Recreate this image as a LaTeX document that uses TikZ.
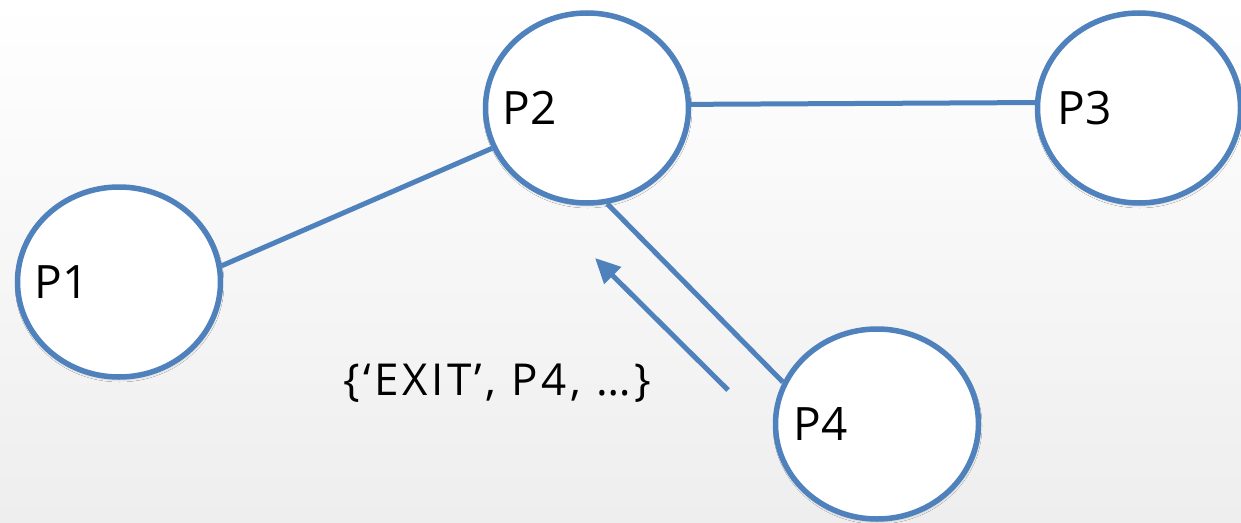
\documentclass[tikz,border=0pt]{standalone}
\usepackage{fontspec}
\setmainfont{Open Sans}
\usetikzlibrary{arrows.meta,shapes.geometric,shadows.blur}
\definecolor{edgeblue}{RGB}{79,129,189}
\definecolor{bgbottom}{RGB}{237,238,237}
\begin{document}
\begin{tikzpicture}[x=1pt,y=-1pt,
  proc/.style={ellipse, draw=edgeblue, line width=5.5pt, fill=white,
    minimum width=203pt, minimum height=190pt, inner sep=0pt,
    blur shadow={shadow xshift=0.5pt, shadow yshift=-2pt,
      shadow blur radius=3pt, shadow opacity=25}},
  tag/.style={anchor=west, inner sep=0pt, font=\fontsize{46}{50}\selectfont},
  msgtext/.style={anchor=base west, inner sep=0pt,
    font=\fontsize{44}{48}\selectfont\addfontfeature{LetterSpace=8}},
  link/.style={draw=edgeblue, line width=5pt},
  msg/.style={link, -{Triangle[length=25pt,width=23pt]}}
]
% soft vertical background
\shade[top color=white, bottom color=bgbottom] (0,0) rectangle (1241,522);
\useasboundingbox (0,0) rectangle (1241,522);

% processes
\node[proc] (p1) at (119,282) {};
\node[proc] (p2) at (587,108) {};
\node[proc] (p3) at (1139,108) {};
\node[proc] (p4) at (877,424) {};

\node[tag] (t1) at ([xshift=20pt]p1.west) {P1};
\node[tag] (t2) at ([xshift=20pt]p2.west) {P2};
\node[tag] (t3) at ([xshift=23pt]p3.west) {P3};
\node[tag] (t4) at ([xshift=21pt]p4.west) {P4};

% links between processes
\draw[link] (p1.9.4) -- (p2.203.4);
\draw[link] (p2.2.5) -- (p3.177.5);
\draw[link] (p2.-78) -- (p4.156);

% exit message sent from P4 to P2
\coordinate (mfrom) at (728,390);
\coordinate (mto) at (595,258);
\draw[msg] (mfrom) -- (mto);
\node[msgtext] (m) at (343,395) {\{‘EXIT’, P4, …\}};
\end{tikzpicture}
\end{document}
